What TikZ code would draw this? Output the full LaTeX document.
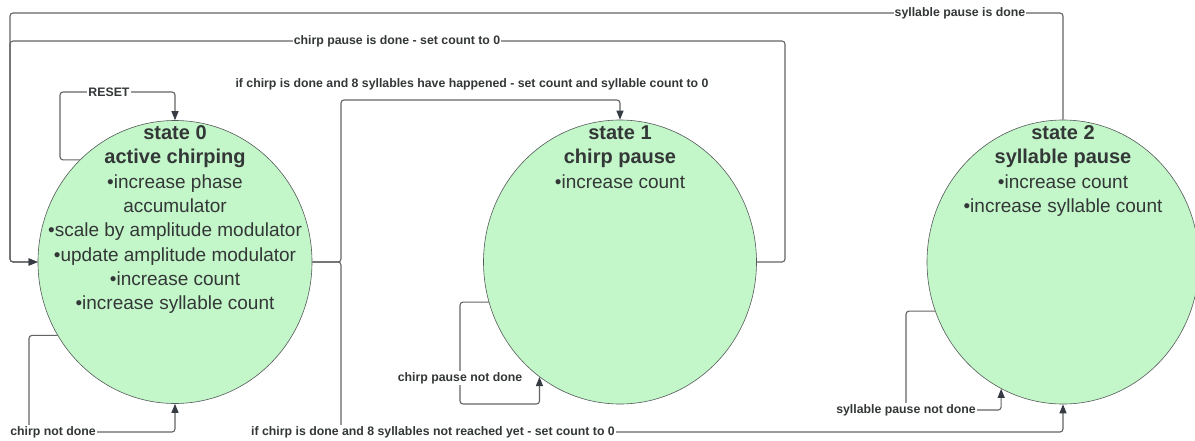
\documentclass[tikz,border=0pt]{standalone}
\usepackage{fontspec}
\setmainfont{Liberation Sans}
\usetikzlibrary{arrows.meta,shapes.geometric}
\definecolor{stfill}{RGB}{195,246,200}
\definecolor{stline}{RGB}{85,90,90}
\definecolor{conncol}{RGB}{100,100,100}
\definecolor{tipcol}{RGB}{55,60,68}
\definecolor{txtcol}{RGB}{51,55,55}
\tikzset{
  statebox/.style={ellipse, draw=stline, line width=0.6pt, fill=stfill, inner sep=0pt},
  stxt/.style={text=txtcol, align=center, inner sep=0pt, font=\fontsize{19}{24.3}\selectfont},
  conn/.style={draw=conncol, line width=1.1pt, rounded corners=3pt},
  arr/.style={conn, -{Triangle[length=9pt,width=7pt,fill=tipcol,color=tipcol]}},
  lbl/.style={fill=white, inner sep=1pt, text=txtcol, font=\fontsize{12.3}{14}\selectfont\bfseries},
  lblfree/.style={inner sep=1pt, text=txtcol, font=\fontsize{12.3}{14}\selectfont\bfseries}
}
\newcommand{\hd}[1]{{\bfseries\fontsize{20}{24.3}\selectfont #1}}
\begin{document}
\begin{tikzpicture}[x=1pt,y=-1pt]
\useasboundingbox[fill=white] (0,0) rectangle (1195,440);
% states
\node[statebox, minimum width=274pt, minimum height=283pt] (s0) at (175,262) {};
\node[statebox, minimum width=273pt, minimum height=284pt] (s1) at (620,262) {};
\node[statebox, minimum width=272pt, minimum height=284pt] (s2) at (1063,262) {};
\node[stxt, anchor=north] (t0) at (175,125.5) {\hd{state 0}\\\hd{active chirping}\\•increase phase\\accumulator\\•scale by amplitude modulator\\•update amplitude modulator\\•increase count\\•increase syllable count};
\node[stxt, anchor=north] (t1) at (620,125.5) {\hd{state 1}\\\hd{chirp pause}\\•increase count};
\node[stxt, anchor=north] (t2) at (1063,125.5) {\hd{state 2}\\\hd{syllable pause}\\•increase count\\•increase syllable count};
% connectors
\draw[arr] (s2.north) |- (10,13) |- (s0.west);
\draw[arr] (s1.east) -| (785,41) -- (10,41) |- (s0.west);
\draw[arr] (s0.east) -| (341,100) -| (s1.north);
\draw[arr] (s0.east) -| (341,432) -| (s2.south);
\draw[arr] (s0.212) -| (29,432) -| (s0.south);
\draw[arr] (s0.133) -| (60,92) -| (s0.north);
\draw[arr] (s1.197) -| (460,404) -| (s1.235);
\draw[arr] (s2.201) -| (906,410) -| (s2.244);
% labels
\node[lbl] (l1) at (960,13) {syllable pause is done};
\node[lbl] (l2) at (397,41) {chirp pause is done - set count to 0};
\node[lblfree] (l3) at (472,84) {if chirp is done and 8 syllables have happened - set count and syllable count to 0};
\node[lbl] (l4) at (433,432) {if chirp is done and 8 syllables not reached yet - set count to 0};
\node[lbl] (l5) at (53,432) {chirp not done};
\node[lbl] (l6) at (109,92) {RESET};
\node[lbl] (l7) at (460,378) {chirp pause not done};
\node[lbl] (l8) at (906,410) {syllable pause not done};
\end{tikzpicture}
\end{document}
